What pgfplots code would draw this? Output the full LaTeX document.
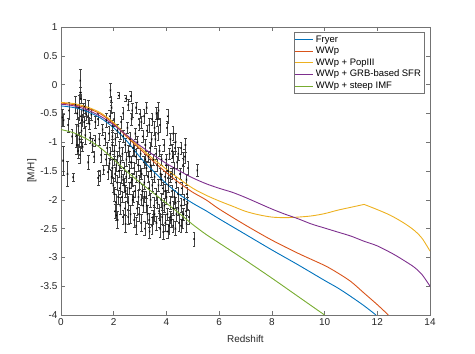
\documentclass[border=0pt]{standalone}
\usepackage{fontspec}
\setmainfont{Liberation Sans}
\usepackage{pgfplots}
\usepackage{pgfplotstable}
\pgfplotsset{compat=1.18}
\usetikzlibrary{calc}

\definecolor{mblue}{rgb}{0,0.447,0.741}
\definecolor{mred}{rgb}{0.850,0.325,0.098}
\definecolor{myellow}{rgb}{0.929,0.694,0.125}
\definecolor{mpurple}{rgb}{0.494,0.184,0.556}
\definecolor{mgreen}{rgb}{0.466,0.674,0.188}

% observed metallicities: redshift, [M/H], error
\pgfplotstableread{
x y e
0.05 -0.57 0.15
0.08 -1.32 0.25
0.10 -0.62 0.10
0.25 -1.55 0.22
0.27 -0.70 0.12
0.30 -0.45 0.15
0.46 -1.61 0.07
0.42 -0.90 0.12
0.55 -0.35 0.15
0.58 -0.88 0.20
0.60 -1.05 0.15
0.62 -0.50 0.10
0.65 -1.15 0.12
0.66 -0.72 0.15
0.68 -0.40 0.22
0.70 -0.95 0.12
0.71 -1.22 0.14
0.73 0.07 0.20
0.74 -0.14 0.10
0.75 -0.25 0.08
0.75 -0.55 0.12
0.76 -1.00 0.10
0.78 -0.80 0.15
0.80 -0.62 0.10
0.82 -1.08 0.08
0.85 -0.45 0.12
0.88 -0.65 0.10
0.90 -0.38 0.12
0.92 -0.88 0.15
0.95 -0.52 0.10
1.02 -0.55 0.12
1.03 -1.35 0.12
1.05 -0.42 0.15
1.08 -0.68 0.10
1.10 -0.92 0.10
1.15 -0.52 0.10
1.20 -1.05 0.12
1.25 -1.25 0.10
1.28 -0.97 0.10
1.30 -0.65 0.10
1.40 -0.60 0.10
1.41 -1.62 0.12
1.45 -0.95 0.10
1.47 -1.58 0.10
1.52 -1.22 0.12
1.58 -0.78 0.10
1.62 -1.48 0.08
1.66 -0.94 0.12
1.70 -1.30 0.10
1.72 -0.62 0.12
1.75 -1.10 0.10
1.78 -1.52 0.12
1.82 -0.85 0.12
1.84 -1.37 0.10
1.85 -0.55 0.10
1.86 -1.20 0.12
1.88 -0.10 0.12
1.90 -0.28 0.08
1.92 -0.40 0.10
1.92 -1.60 0.12
1.94 -1.05 0.10
1.95 -1.45 0.15
1.95 -0.90 0.10
1.96 -0.72 0.10
1.98 -1.75 0.12
2.00 -1.30 0.10
2.00 -0.60 0.12
2.02 -1.90 0.12
2.03 -1.15 0.10
2.05 -1.55 0.12
2.05 -2.20 0.12
2.06 -0.95 0.10
2.08 -2.05 0.15
2.10 -2.27 0.08
2.10 -1.40 0.10
2.12 -1.70 0.12
2.14 -0.80 0.12
2.15 -1.25 0.10
2.15 -2.35 0.15
2.17 -1.95 0.12
2.19 -0.19 0.05
2.20 -1.50 0.10
2.22 -1.10 0.12
2.23 -1.80 0.10
2.25 -2.10 0.15
2.25 -0.85 0.10
2.26 -1.35 0.10
2.28 -0.65 0.10
2.30 -1.60 0.12
2.31 -1.95 0.10
2.33 -1.20 0.12
2.35 -2.30 0.12
2.35 -1.65 0.10
2.35 -0.50 0.10
2.36 -0.90 0.10
2.38 -1.45 0.10
2.40 -1.75 0.12
2.42 -2.15 0.10
2.44 -1.05 0.12
2.45 -2.42 0.15
2.45 -1.85 0.10
2.46 -0.24 0.05
2.47 -1.60 0.10
2.48 -1.30 0.12
2.50 -1.90 0.12
2.52 -0.75 0.10
2.54 -2.05 0.12
2.55 -0.35 0.10
2.55 -2.30 0.12
2.56 -1.15 0.10
2.58 -1.50 0.12
2.60 -1.80 0.10
2.60 -1.25 0.10
2.62 -0.95 0.12
2.64 -2.25 0.15
2.65 -0.20 0.08
2.65 -1.70 0.10
2.66 -1.35 0.10
2.68 -0.60 0.10
2.70 -1.65 0.12
2.70 -0.45 0.12
2.72 -2.00 0.10
2.74 -1.10 0.12
2.75 -1.95 0.10
2.76 -1.45 0.10
2.78 -2.35 0.12
2.78 -1.15 0.10
2.80 -1.85 0.10
2.82 -0.85 0.10
2.84 -1.25 0.12
2.85 -0.40 0.10
2.85 -2.45 0.15
2.86 -1.60 0.10
2.88 -2.15 0.12
2.90 -1.00 0.10
2.92 -1.40 0.10
2.94 -1.95 0.12
2.95 -2.25 0.12
2.96 -0.70 0.10
2.98 -1.70 0.12
2.99 -0.51 0.08
3.00 -1.50 0.10
3.02 -1.20 0.10
3.04 -2.40 0.15
3.05 -0.65 0.10
3.05 -2.00 0.10
3.06 -1.55 0.10
3.08 -1.85 0.12
3.10 -0.90 0.10
3.12 -2.10 0.12
3.14 -1.35 0.10
3.15 -0.55 0.12
3.15 -1.95 0.10
3.16 -1.70 0.12
3.18 -2.50 0.12
3.20 -1.05 0.10
3.20 -1.30 0.10
3.22 -1.95 0.10
3.24 -1.45 0.12
3.25 -0.40 0.10
3.25 -2.10 0.12
3.26 -0.80 0.10
3.28 -2.25 0.15
3.30 -1.60 0.10
3.32 -1.25 0.10
3.34 -1.80 0.12
3.35 -0.70 0.12
3.35 -2.35 0.12
3.36 -2.55 0.12
3.38 -1.10 0.10
3.40 -2.00 0.12
3.40 -1.40 0.10
3.42 -1.50 0.10
3.44 -0.95 0.12
3.45 -0.60 0.10
3.45 -2.45 0.15
3.46 -1.75 0.10
3.48 -2.30 0.12
3.50 -1.30 0.10
3.52 -2.10 0.15
3.55 -1.60 0.10
3.55 -0.75 0.12
3.55 -2.25 0.12
3.58 -0.95 0.12
3.60 -1.90 0.10
3.60 -1.20 0.10
3.62 -2.40 0.12
3.62 -0.50 0.10
3.64 -1.40 0.10
3.65 -2.05 0.10
3.66 -0.60 0.12
3.68 -0.85 0.12
3.70 -1.75 0.10
3.70 -0.45 0.15
3.72 -2.20 0.12
3.74 -1.15 0.10
3.75 -0.70 0.12
3.75 -2.35 0.12
3.76 -2.50 0.15
3.78 -1.55 0.10
3.80 -2.00 0.12
3.80 -1.65 0.10
3.82 -1.30 0.10
3.84 -2.30 0.12
3.85 -2.15 0.10
3.86 -1.80 0.10
3.88 -2.56 0.12
3.90 -1.05 0.10
3.92 -2.10 0.12
3.94 -1.60 0.10
3.95 -1.85 0.12
3.96 -2.40 0.15
3.98 -1.40 0.10
4.00 -1.95 0.12
4.00 -1.30 0.10
4.02 -0.75 0.12
4.04 -2.25 0.10
4.05 -0.55 0.12
4.05 -2.55 0.12
4.06 -1.50 0.10
4.08 -1.75 0.12
4.10 -2.45 0.15
4.12 -1.20 0.10
4.14 -2.05 0.12
4.15 -0.95 0.10
4.15 -2.30 0.10
4.16 -1.60 0.10
4.18 -2.35 0.12
4.20 -1.85 0.10
4.20 -1.55 0.10
4.22 -1.15 0.12
4.24 -1.25 0.10
4.25 -0.85 0.12
4.25 -2.45 0.12
4.26 -2.15 0.12
4.28 -1.45 0.10
4.30 -1.95 0.12
4.32 -1.10 0.10
4.34 -2.50 0.12
4.35 -1.00 0.15
4.35 -2.05 0.10
4.36 -1.70 0.10
4.38 -2.25 0.12
4.40 -1.35 0.10
4.44 -1.90 0.12
4.45 -1.20 0.12
4.45 -2.15 0.12
4.48 -2.40 0.15
4.52 -1.55 0.10
4.55 -2.10 0.12
4.55 -1.10 0.10
4.55 -2.45 0.12
4.58 -1.80 0.10
4.60 -2.35 0.15
4.63 -1.40 0.12
4.65 -1.30 0.12
4.65 -2.25 0.10
4.66 -2.00 0.10
4.70 -1.25 0.12
4.72 -1.05 0.12
4.74 -2.20 0.12
4.76 -1.65 0.10
4.76 -2.41 0.15
4.78 -1.90 0.12
4.80 -2.06 0.10
4.82 -1.45 0.12
4.85 -2.30 0.12
5.05 -2.68 0.12
5.17 -1.49 0.10
}\obsdata

\begin{document}
\begin{tikzpicture}
\begin{axis}[
    scale only axis,
    width=369bp, height=288bp,
    xmin=0, xmax=14, ymin=-4, ymax=1,
    xtick={0,2,4,6,8,10,12,14},
    ytick={-4,-3.5,-3,-2.5,-2,-1.5,-1,-0.5,0,0.5,1},
    tick align=inside,
    major tick length=3.7bp,
    axis line style={black!55, line width=0.5bp},
    tick style={black!55, line width=0.5bp},
    ticklabel style={font=\fontsize{10}{12}\selectfont, text=black!85},
    /pgf/number format/assume math mode=true,
    xlabel={Redshift}, ylabel={[M/H]},
    label style={font=\fontsize{10}{12}\selectfont, text=black!85},
    xlabel style={yshift=-3bp},
    ylabel style={yshift=-3bp},
    legend style={at={(0.984,0.983)}, anchor=north east,
        draw=black!55, line width=0.5bp, fill=white,
        font=\fontsize{9.5}{11}\selectfont, inner xsep=1bp, inner ysep=1.5bp,
        row sep=-0.5bp},
    legend cell align=left,
    legend image code/.code={\draw[#1, line width=0.9pt] (0bp,0bp) -- (18bp,0bp);},
]
\addplot[forget plot, only marks, mark=x, mark size=1.1pt, black,
    error bars/.cd, y dir=both, y explicit,
    error bar style={line width=0.4pt, black!75},
    error mark options={rotate=90, mark size=1.4pt, line width=0.4pt, black!75}]
    table[x=x, y=y, y error=e] {\obsdata};

\addplot[color=mblue, line width=0.9pt, smooth, tension=0.5] coordinates {
(0,-0.37) (0.5,-0.40) (1,-0.47) (1.5,-0.58) (2,-0.75) (2.5,-0.98) (3,-1.26)
(3.5,-1.50) (4,-1.72) (4.5,-1.91) (5,-2.06) (5.5,-2.19) (6,-2.33) (7,-2.60)
(8,-2.87) (9,-3.13) (10,-3.40) (10.5,-3.53) (11,-3.68) (11.5,-3.84) (11.95,-4.0)};
\addlegendentry{Fryer}

\addplot[color=mred, line width=0.9pt, smooth, tension=0.5] coordinates {
(0,-0.32) (0.5,-0.35) (1,-0.41) (1.5,-0.51) (2,-0.68) (2.5,-0.91) (3,-1.12)
(3.5,-1.33) (4,-1.53) (4.5,-1.71) (5,-1.87) (5.5,-2.00) (6,-2.16) (7,-2.44)
(8,-2.70) (9,-2.93) (10,-3.14) (10.5,-3.27) (11,-3.42) (11.5,-3.62) (12,-3.82) (12.42,-4.0)};
\addlegendentry{WWp}

\addplot[color=myellow, line width=0.9pt, smooth, tension=0.5] coordinates {
(0,-0.31) (0.5,-0.33) (1,-0.39) (1.5,-0.49) (2,-0.66) (2.5,-0.89) (3,-1.09)
(3.5,-1.29) (4,-1.47) (4.5,-1.64) (5,-1.80) (5.5,-1.92) (6,-2.02) (6.5,-2.11)
(7,-2.20) (7.5,-2.26) (8,-2.30) (8.5,-2.31) (9,-2.30) (9.5,-2.28) (10,-2.24)
(10.5,-2.18) (11,-2.13) (11.5,-2.08)};
\addlegendentry{WWp + PopIII}

\addplot[color=mpurple, line width=0.9pt, smooth, tension=0.5] coordinates {
(0,-0.34) (0.5,-0.37) (1,-0.44) (1.5,-0.55) (2,-0.70) (2.5,-0.88) (3,-1.06)
(3.5,-1.22) (4,-1.37) (4.5,-1.50) (5,-1.62) (5.5,-1.72) (6,-1.80) (6.5,-1.87)
(7,-1.96) (7.5,-2.06) (8,-2.16) (8.5,-2.25) (9,-2.33) (9.5,-2.42) (10,-2.49)
(10.5,-2.56) (11,-2.63) (11.5,-2.72) (12,-2.80) (12.6,-2.94) (13,-3.05)
(13.4,-3.17) (13.7,-3.30) (14,-3.50)};
\addlegendentry{WWp + GRB-based SFR}

\addplot[color=mgreen, line width=0.9pt, smooth, tension=0.5] coordinates {
(0,-0.78) (0.5,-0.84) (1,-0.95) (1.5,-1.10) (2,-1.30) (2.5,-1.51) (3,-1.70)
(3.5,-1.88) (4,-2.06) (4.5,-2.24) (5,-2.43) (5.5,-2.60) (6,-2.75) (7,-3.05)
(8,-3.36) (9,-3.68) (10,-4.0)};
\addlegendentry{WWp + steep IMF}

% PopIII curve after its kink at z ~ 11.5
\addplot[forget plot, color=myellow, line width=0.9pt, smooth, tension=0.5] coordinates {
(11.5,-2.08) (12,-2.17) (12.5,-2.27) (13,-2.40) (13.4,-2.53) (13.7,-2.67) (14,-2.89)};
\end{axis}
\pgfresetboundingbox
\path ($(current axis.south west)+(-61bp,-39bp)$) rectangle ($(current axis.north east)+(45bp,27bp)$);
\end{tikzpicture}
\end{document}
